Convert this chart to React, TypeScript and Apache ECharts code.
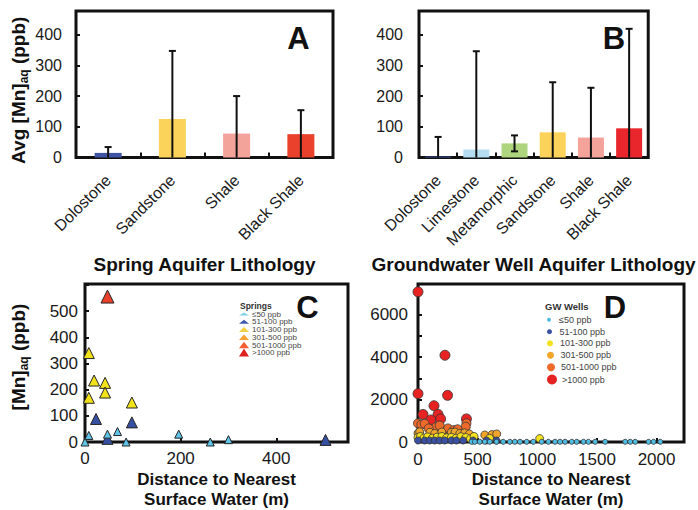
import React, { useEffect, useRef } from 'react';
import * as echarts from 'echarts';

const FONT = '"Liberation Sans", Arial, Helvetica, sans-serif';

// ---- Panel A: springs ----
const springLith = ['Dolostone', 'Sandstone', 'Shale', 'Black Shale'];
const springAvg = [15, 125, 78, 76];
const springErr = [19, 222, 122, 78];
const springColors = ['#3F54A4', '#FBD35A', '#F4A39B', '#E9412B'];

// ---- Panel B: groundwater wells ----
const wellLith = ['Dolostone', 'Limestone', 'Metamorphic', 'Sandstone', 'Shale', 'Black Shale'];
const wellAvg = [3, 26, 46, 82, 65, 95];
const wellErr = [64, 320, 26, 163, 162, 324];
const wellColors = ['#3F54A4', '#B5DDF2', '#AED47E', '#FBD35A', '#F4A39B', '#E8262B'];

// ---- classes ----
const classNames = ['≤50 ppb', '51-100 ppb', '101-300 ppb', '301-500 ppb', '501-1000 ppb', '>1000 ppb'];

// ---- Panel C: springs distance vs Mn ----
const springsLe50 = [[8, 25], [0, 0], [47, 30], [68, 40], [86, 0], [196, 30], [262, 0], [300, 9]];
const springs51to100 = [[23, 88], [98, 75], [47, 12], [503, 8]];
const springs101to300 = [[8, 340], [19, 235], [42, 226], [42, 189], [8, 169], [98, 151]];
const springs301to500: number[][] = [];
const springs501to1000 = [[47, 556]];
const springsGt1000: number[][] = [];

// ---- Panel D: wells distance vs Mn ----
const wellsGt1000 = [[0, 7080], [226, 4090], [0, 2280], [248, 2200], [134, 1710], [42, 1300], [168, 1300], [108, 1040], [190, 1090], [406, 1090]];
const wells501to1000 = [[0, 880], [28, 820], [56, 860], [150, 700], [182, 780], [252, 640], [300, 560], [406, 880], [400, 720], [332, 600], [90, 640]];
const wells301to500 = [[0, 420], [14, 480], [100, 460], [140, 400], [210, 380], [280, 450], [310, 470], [350, 400], [390, 430], [430, 380], [560, 330], [620, 350], [660, 380], [200, 470]];
const wells101to300 = [[0, 220], [20, 260], [50, 190], [80, 240], [120, 180], [160, 230], [200, 260], [240, 200], [280, 220], [320, 180], [360, 250], [400, 210], [440, 160], [470, 260], [1020, 160], [600, 170]];
const wells51to100 = [[0, 70], [56, 70], [98, 70], [140, 70], [182, 70], [224, 70], [280, 70], [322, 70], [378, 70], [462, 70], [574, 70], [658, 70]];
const wellsLe50 = [[449, 10], [477, 10], [518, 10], [560, 10], [602, 10], [658, 10], [714, 10], [770, 10], [812, 10], [855, 10], [911, 10], [966, 10], [1037, 10], [1093, 10], [1149, 10], [1191, 10], [1233, 10], [1289, 10], [1331, 10], [1387, 10], [1429, 10], [1485, 10], [1569, 10], [1737, 10], [1779, 10], [1821, 10], [1933, 10], [1975, 10], [2031, 10]];

const springClassData = [springsLe50, springs51to100, springs101to300, springs301to500, springs501to1000, springsGt1000];
const wellClassData = [wellsLe50, wells51to100, wells101to300, wells301to500, wells501to1000, wellsGt1000];

const springPointColors = ['#5EC4E8', '#3550A0', '#F2E21A', '#F5A030', '#E8402A', '#E02020'];
const springLegendColors = ['#7FD0EA', '#3F5AA8', '#F0D040', '#F5A030', '#F06030', '#E02020'];
const springSizes = [8, 11, 11, 11, 13, 13];
const springLegendSizes = [3, 4, 5, 5.5, 6.5, 8];

const wellPointColors = ['#4FBDE3', '#3A50A0', '#F4E21E', '#F2A52A', '#EE6A2A', '#E62222'];
const wellSizes = [5, 7, 8, 8, 9, 10];
const wellLegendSizes = [4, 5, 6, 7, 8, 10];

const errRender = (params: any, api: any) => {
  const i = api.value(0);
  const v = api.value(1);
  const e = api.value(2);
  const hi = api.coord([i, v + e]);
  const lo = api.coord([i, Math.max(0, v - e)]);
  const cap = 3.5;
  const st = { stroke: '#111', lineWidth: 2 };
  const children: any[] = [
    { type: 'line', shape: { x1: hi[0], y1: hi[1], x2: lo[0], y2: lo[1] }, style: st },
    { type: 'line', shape: { x1: hi[0] - cap, y1: hi[1], x2: hi[0] + cap, y2: hi[1] }, style: st },
  ];
  if (v - e >= 0) {
    children.push({ type: 'line', shape: { x1: lo[0] - cap, y1: lo[1], x2: lo[0] + cap, y2: lo[1] }, style: st });
  }
  return { type: 'group', children };
};

const tickLabel = (size = 16) => ({ fontFamily: FONT, fontSize: size, color: '#1a1a1a' });
const tickStyle = { show: true, inside: true, length: 4, lineStyle: { color: '#111', width: 2 } };

export default function App() {
  const ref = useRef<HTMLDivElement>(null);
  useEffect(() => {
    if (!ref.current) return;
    const chart = echarts.init(ref.current, undefined, { renderer: 'svg' });

    const grids = [
      { left: 76, top: 11, width: 257, height: 146.5 },
      { left: 419, top: 11, width: 261, height: 146.5 },
      { left: 85, top: 284, width: 263, height: 160 },
      { left: 418, top: 284, width: 266, height: 160 },
    ].map((g) => ({ ...g, show: true, borderColor: '#111', borderWidth: 3, backgroundColor: '#fff' }));

    const catLabel = { ...tickLabel(16), rotate: 45, margin: 20, interval: 0 };
    const subRich = {
      m: { fontFamily: FONT, fontWeight: 'bold', fontSize: 19, color: '#111', lineHeight: 24 },
      s: { fontFamily: FONT, fontWeight: 'bold', fontSize: 12, color: '#111', lineHeight: 12, verticalAlign: 'bottom' },
    };

    const xAxes: any[] = [
      {
        type: 'category', gridIndex: 0, data: springLith,
        axisLine: { show: false }, axisTick: { ...tickStyle, length: 5 }, axisLabel: catLabel,
        name: 'Spring Aquifer Lithology', nameLocation: 'middle', nameGap: 97,
        nameTextStyle: { fontFamily: FONT, fontWeight: 'bold', fontSize: 19, color: '#111' },
      },
      {
        type: 'category', gridIndex: 1, data: wellLith,
        axisLine: { show: false }, axisTick: { ...tickStyle, length: 5 }, axisLabel: catLabel,
        name: 'Groundwater Well Aquifer Lithology', nameLocation: 'middle', nameGap: 97,
        nameTextStyle: { fontFamily: FONT, fontWeight: 'bold', fontSize: 19, color: '#111' },
      },
      {
        type: 'value', gridIndex: 2, min: 0, max: 550, interval: 200,
        axisLine: { show: false }, axisTick: tickStyle, splitLine: { show: false },
        axisLabel: { ...tickLabel(17), margin: 8, showMaxLabel: false, formatter: (v: number) => String(v) },
        name: 'Distance to Nearest\nSurface Water (m)', nameLocation: 'middle', nameGap: 27,
        nameTextStyle: { fontFamily: FONT, fontWeight: 'bold', fontSize: 17, lineHeight: 20, color: '#111', verticalAlign: 'top' },
      },
      {
        type: 'value', gridIndex: 3, min: 0, max: 2230, interval: 500,
        axisLine: { show: false }, axisTick: tickStyle, splitLine: { show: false },
        axisLabel: { ...tickLabel(17), margin: 9, showMaxLabel: false, formatter: (v: number) => String(v) },
        name: 'Distance to Nearest\nSurface Water (m)', nameLocation: 'middle', nameGap: 27,
        nameTextStyle: { fontFamily: FONT, fontWeight: 'bold', fontSize: 17, lineHeight: 20, color: '#111', verticalAlign: 'top' },
      },
    ];

    const yAxes: any[] = [
      {
        type: 'value', gridIndex: 0, min: 0, max: 477, interval: 100,
        axisLine: { show: false }, axisTick: tickStyle, splitLine: { show: false },
        axisLabel: { ...tickLabel(16), margin: 14, showMaxLabel: false },
        name: '{m|Avg [Mn]}{s|aq}{m| (ppb)}', nameLocation: 'middle', nameGap: 46, nameRotate: 90,
        nameTextStyle: { rich: subRich, padding: [0, 12, 0, 0] },
      },
      {
        type: 'value', gridIndex: 1, min: 0, max: 477, interval: 100,
        axisLine: { show: false }, axisTick: tickStyle, splitLine: { show: false },
        axisLabel: { ...tickLabel(16), margin: 16, showMaxLabel: false },
      },
      {
        type: 'value', gridIndex: 2, min: 0, max: 604, interval: 100,
        axisLine: { show: false }, axisTick: tickStyle, splitLine: { show: false },
        axisLabel: {
          ...tickLabel(17), margin: 7, showMaxLabel: false,
          formatter: (v: number) => (v <= 500 ? String(v) : ''),
        },
        name: '{m|[Mn]}{s|aq}{m| (ppb)}', nameLocation: 'middle', nameGap: 55, nameRotate: 90,
        nameTextStyle: { rich: subRich, padding: [0, 0, 0, 12] },
      },
      {
        type: 'value', gridIndex: 3, min: 0, max: 7450, interval: 1000,
        axisLine: { show: false }, axisTick: tickStyle, splitLine: { show: false },
        axisLabel: {
          ...tickLabel(17), margin: 10, showMaxLabel: false,
          formatter: (v: number) => (v % 2000 === 0 ? String(v) : ''),
        },
      },
    ];

    const series: any[] = [
      {
        type: 'bar', xAxisIndex: 0, yAxisIndex: 0, barWidth: 27,
        data: springAvg.map((v, i) => ({ value: v, itemStyle: { color: springColors[i] } })),
      },
      {
        type: 'custom', xAxisIndex: 0, yAxisIndex: 0, renderItem: errRender, z: 5,
        encode: { x: 0, y: 1 },
        data: springAvg.map((v, i) => [i, v, springErr[i]]),
      },
      {
        type: 'bar', xAxisIndex: 1, yAxisIndex: 1, barWidth: 26,
        data: wellAvg.map((v, i) => ({ value: v, itemStyle: { color: wellColors[i] } })),
      },
      {
        type: 'custom', xAxisIndex: 1, yAxisIndex: 1, renderItem: errRender, z: 5,
        encode: { x: 0, y: 1 },
        data: wellAvg.map((v, i) => [i, v, wellErr[i]]),
      },
    ];

    // larger classes first so smaller ones sit on top
    for (let k = classNames.length - 1; k >= 0; k--) {
      series.push({
        type: 'scatter', name: 'C' + classNames[k], xAxisIndex: 2, yAxisIndex: 2,
        symbol: 'triangle', symbolSize: springSizes[k],
        itemStyle: { color: springPointColors[k], borderColor: '#262626', borderWidth: 1, opacity: 1 },
        data: springClassData[k],
      });
    }
    for (let k = classNames.length - 1; k >= 0; k--) {
      series.push({
        type: 'scatter', name: 'D' + classNames[k], xAxisIndex: 3, yAxisIndex: 3,
        symbol: 'circle', symbolSize: wellSizes[k],
        itemStyle: { color: wellPointColors[k], borderColor: '#333', borderWidth: 0.8, opacity: 1 },
        data: wellClassData[k],
      });
    }

    const legends: any[] = [];
    const cRows = [315, 322.7, 330.5, 338.3, 346, 353.5];
    const dRows = [320.7, 332.7, 344.4, 356.2, 368.2, 380];
    classNames.forEach((cn, k) => {
      legends.push({
        show: true, data: [{ name: 'C' + cn, icon: 'triangle' }],
        left: 239, top: cRows[k] - 5, padding: 0, itemWidth: 10, itemHeight: springLegendSizes[k],
        selectedMode: false, formatter: (n: string) => n.slice(1),
        itemStyle: { borderWidth: 0, color: springLegendColors[k] },
        textStyle: { fontFamily: FONT, fontSize: 8, color: '#444', padding: [0, 0, 0, -2] },
      });
      legends.push({
        show: true, data: [{ name: 'D' + cn, icon: 'circle' }],
        left: 547, top: dRows[k] - 5.5, padding: 0, itemWidth: 10, itemHeight: wellLegendSizes[k],
        selectedMode: false, formatter: (n: string) => n.slice(1),
        itemStyle: { borderWidth: 0 },
        textStyle: { fontFamily: FONT, fontSize: 9, color: '#444' },
      });
    });

    const bigLetter = (t: string, x: number, y: number) => ({
      type: 'text', x, y, z: 10,
      style: { text: t, fontFamily: FONT, fontWeight: 'bold', fontSize: 31, fill: '#111', align: 'center', verticalAlign: 'middle' },
    });

    chart.setOption({
      animation: false,
      backgroundColor: '#fff',
      textStyle: { fontFamily: FONT },
      grid: grids,
      xAxis: xAxes,
      yAxis: yAxes,
      legend: legends,
      series,
      graphic: [
        bigLetter('A', 298.5, 38),
        bigLetter('B', 614, 38),
        bigLetter('C', 307.5, 307),
        bigLetter('D', 615, 307),
        {
          type: 'text', x: 240, y: 305.5, z: 10,
          style: { text: 'Springs', fontFamily: FONT, fontWeight: 'bold', fontSize: 8.5, fill: '#333', align: 'left', verticalAlign: 'middle' },
        },
        {
          type: 'text', x: 545, y: 306.5, z: 10,
          style: { text: 'GW Wells', fontFamily: FONT, fontWeight: 'bold', fontSize: 9.5, fill: '#333', align: 'left', verticalAlign: 'middle' },
        },
      ],
    });
    return () => chart.dispose();
  }, []);
  return <div ref={ref} style={{ width: 698, height: 510, position: 'absolute', left: 0, top: 0 }} />;
}
